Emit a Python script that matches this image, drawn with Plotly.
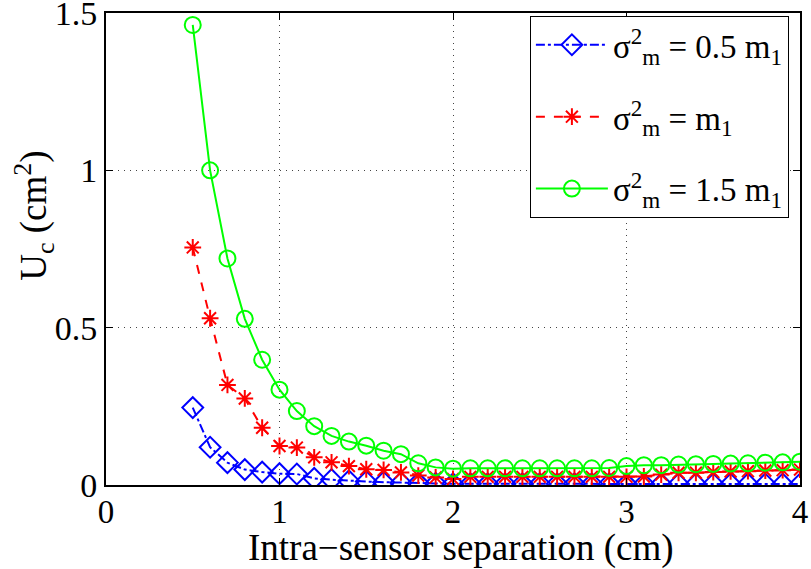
import plotly.graph_objects as go

x_vals = [round(0.5 + 0.1 * i, 1) for i in range(36)]

blue_vals = [0.246, 0.120, 0.071, 0.049, 0.041, 0.036, 0.035, 0.021, 0.017, 0.013,
             0.011, 0.009, 0.007, 0.006, 0.005, 0.004, 0.004, 0.004, 0.004, 0.004,
             0.004, 0.004, 0.004, 0.004, 0.004, 0.003, 0.003, 0.003, 0.003, 0.003,
             0.003, 0.003, 0.003, 0.003, 0.003, 0.003]

red_vals = [0.755, 0.530, 0.318, 0.275, 0.182, 0.124, 0.119, 0.088, 0.072, 0.060,
            0.050, 0.048, 0.040, 0.030, 0.024, 0.019, 0.026, 0.026, 0.026, 0.026,
            0.026, 0.026, 0.026, 0.026, 0.026, 0.026, 0.027, 0.033, 0.039, 0.039,
            0.041, 0.043, 0.044, 0.046, 0.047, 0.049]

green_vals = [1.462, 1.000, 0.720, 0.528, 0.398, 0.303, 0.235, 0.187, 0.156, 0.138,
              0.125, 0.109, 0.098, 0.069, 0.056, 0.052, 0.053, 0.053, 0.053, 0.053,
              0.053, 0.053, 0.053, 0.053, 0.054, 0.060, 0.063, 0.063, 0.065, 0.066,
              0.067, 0.068, 0.069, 0.071, 0.072, 0.074]

names = ["σ<sup>2</sup><sub>m</sub> = 0.5 m<sub>1</sub>",
         "σ<sup>2</sup><sub>m</sub> = m<sub>1</sub>",
         "σ<sup>2</sup><sub>m</sub> = 1.5 m<sub>1</sub>"]

x_ticks = [0, 1, 2, 3, 4]
y_ticks = [0, 0.5, 1, 1.5]
y_tick_text = ["0", "0.5", "1", "1.5"]
x_title = "Intra−sensor separation (cm)"
y_title = "U<sub>c</sub> (cm<sup>2</sup>)"

FONT = "Liberation Serif"
GRID_DASH = "1px,5px"

fig = go.Figure()
fig.add_trace(go.Scatter(
    x=x_vals, y=blue_vals, name=names[0], mode="lines+markers", legendgroup="a",
    line=dict(color="#0000ff", width=2, dash="dashdot"),
    marker=dict(symbol="diamond-open", size=16, color="#0000ff", line=dict(width=2, color="#0000ff")),
))
fig.add_trace(go.Scatter(
    x=x_vals, y=red_vals, name=names[1], mode="lines+markers", legendgroup="b",
    line=dict(color="#ff0000", width=2, dash="dash"),
    marker=dict(symbol="asterisk-open", size=14, color="#ff0000", line=dict(width=2, color="#ff0000")),
))
fig.add_trace(go.Scatter(
    x=x_vals, y=green_vals, name=names[2], mode="lines+markers", legendgroup="c",
    line=dict(color="#00ff00", width=2, dash="solid"),
    marker=dict(symbol="circle-open", size=16, color="#00ff00", line=dict(width=2, color="#00ff00")),
))

fig.update_layout(
    width=811, height=569,
    margin=dict(l=106, r=11, t=13, b=84),
    paper_bgcolor="white", plot_bgcolor="white",
    font=dict(family=FONT, size=34, color="black"),
    showlegend=True,
    legend=dict(
        x=0.984, y=0.994, xanchor="right", yanchor="top",
        bgcolor="white", bordercolor="black", borderwidth=1,
        font=dict(family=FONT, size=33, color="black"),
        tracegroupgap=26, itemwidth=72,
    ),
    annotations=[
        dict(text=y_title, xref="paper", yref="paper", x=-0.104, y=0.57,
             xanchor="center", yanchor="middle", textangle=-90, showarrow=False,
             font=dict(family=FONT, size=37, color="black")),
        dict(text=x_title, xref="paper", yref="paper", x=0.5115, y=-0.134,
             xanchor="center", yanchor="middle", showarrow=False,
             font=dict(family=FONT, size=37, color="black")),
    ],
)
fig.update_xaxes(
    range=[0, 4], tickvals=x_ticks, ticktext=[str(v) for v in x_ticks],
    showline=True, linecolor="black", linewidth=2, mirror="ticks",
    ticks="inside", ticklen=7, tickcolor="black",
    showgrid=True, gridcolor="#444444", griddash=GRID_DASH, gridwidth=1,
    zeroline=False, ticklabeloverflow="allow", automargin=False,
    ticklabelstandoff=-4,
    tickfont=dict(family=FONT, size=33),
)
fig.update_yaxes(
    range=[0, 1.5], tickvals=y_ticks, ticktext=y_tick_text,
    showline=True, linecolor="black", linewidth=2, mirror="ticks",
    ticks="inside", ticklen=7, tickcolor="black",
    showgrid=True, gridcolor="#444444", griddash=GRID_DASH, gridwidth=1,
    zeroline=False, ticklabeloverflow="allow", automargin=False,
    tickfont=dict(family=FONT, size=34),
)

fig.write_html("out.html")
